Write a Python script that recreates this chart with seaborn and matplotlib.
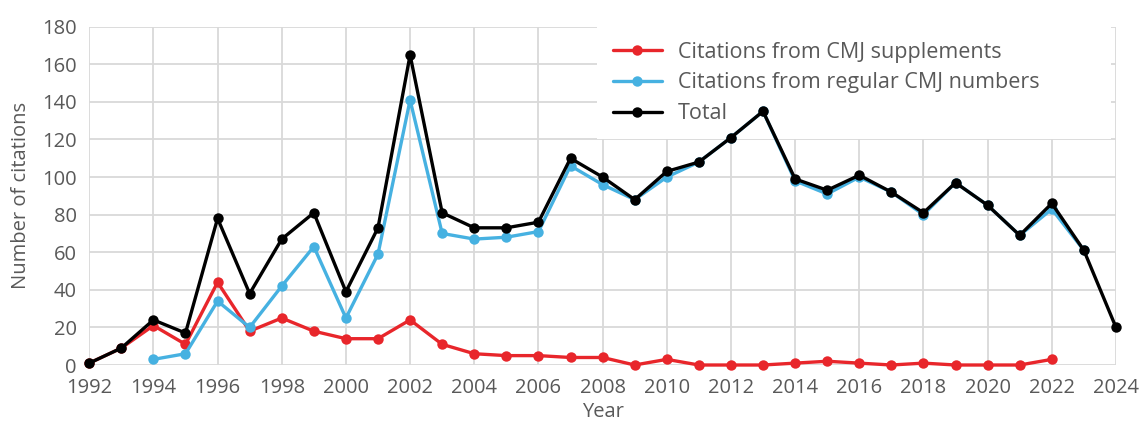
import pandas as pd
import seaborn as sns
import matplotlib.pyplot as plt

# Data
years = list(range(1992, 2025))

supplements = [1, 9, 21, 11, 44, 18, 25, 18, 14, 14, 24, 11, 6, 5, 5, 4, 4,
               0, 3, 0, 0, 0, 1, 2, 1, 0, 1, 0, 0, 0, 3, None, None]
regular = [None, None, 3, 6, 34, 20, 42, 63, 25, 59, 141, 70, 67, 68, 71, 106, 96,
           88, 100, 108, 121, 135, 98, 91, 100, 92, 80, 97, 85, 69, 83, 61, None]
total = [1, 9, 24, 17, 78, 38, 67, 81, 39, 73, 165, 81, 73, 73, 76, 110, 100,
         88, 103, 108, 121, 135, 99, 93, 101, 92, 81, 97, 85, 69, 86, 61, 20]

labels = ["Citations from CMJ supplements",
          "Citations from regular CMJ numbers",
          "Total"]
colors = ["#e8262b", "#46b1e1", "#000000"]


def main():
    sns.set_style("white")
    plt.rcParams["font.family"] = ["Open Sans", "DejaVu Sans"]

    frames = []
    for name, vals in zip(labels, [supplements, regular, total]):
        frames.append(pd.DataFrame({"Year": years, "Citations": vals, "series": name}))
    df = pd.concat(frames).dropna()

    fig = plt.figure(figsize=(11.44, 4.21), dpi=100)
    ax = fig.add_axes([0.078, 0.133, 0.8975, 0.8035])

    sns.lineplot(data=df, x="Year", y="Citations", hue="series",
                 hue_order=labels, palette=colors, marker="o",
                 markersize=7.5, markeredgewidth=0, linewidth=2.4,
                 clip_on=False, ax=ax, zorder=3)

    ax.set_xlim(1992, 2024)
    ax.set_ylim(0, 180)
    ax.set_xticks(range(1992, 2025, 2))
    ax.set_yticks(range(0, 181, 20))
    ax.grid(True, color="#d9d9d9", linewidth=1.3)
    ax.set_axisbelow(True)
    for s in ax.spines.values():
        s.set_visible(False)

    gray = "#595959"
    ax.tick_params(length=0, labelsize=14.5, labelcolor=gray)
    ax.tick_params(axis="y", pad=9)
    ax.tick_params(axis="x", pad=9.5)
    ax.set_xlabel("Year", fontsize=14.5, color=gray, labelpad=3)
    ax.set_ylabel("Number of citations", fontsize=14.5, color=gray, labelpad=8)

    leg = ax.legend(loc="upper left", bbox_to_anchor=(0.495, 0.66, 0.5, 0.34),
                    mode="expand", fontsize=15.5, frameon=True, facecolor="white",
                    edgecolor="none", framealpha=1, fancybox=False,
                    handlelength=2.3, handletextpad=0.75, labelspacing=0.45,
                    borderpad=0.7, borderaxespad=0)
    for t in leg.get_texts():
        t.set_color(gray)
    leg.set_zorder(2.5)

    fig.savefig("out.png", dpi=100)


if __name__ == "__main__":
    main()
